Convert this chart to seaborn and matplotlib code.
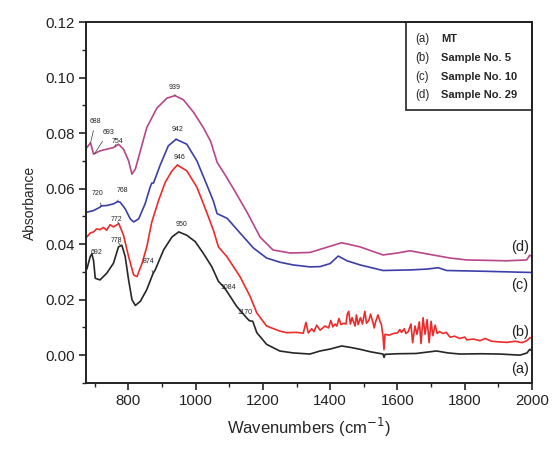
"""FTIR absorbance spectra of MT and samples 5, 10, 29"""
import numpy as np
import matplotlib
matplotlib.use("Agg")
import matplotlib.pyplot as plt
import seaborn as sns
import pandas as pd
from matplotlib.patches import Rectangle
from matplotlib.ticker import MultipleLocator, FormatStrFormatter

# (a) MT - black
wn_a = [677, 687, 692, 697, 702, 716, 736, 756, 771, 781, 791, 801, 811, 821, 836,
        855, 874, 880, 905, 930, 950, 974, 999, 1023, 1048, 1068, 1084, 1093, 1122,
        1152, 1160, 1170, 1182, 1211, 1250, 1290, 1340, 1370, 1400, 1434, 1460, 1489,
        1520, 1557, 1560, 1563, 1600, 1655, 1716, 1750, 1786, 1850, 1904, 1964, 1985,
        1993, 2000]
abs_a = [0.031, 0.0355, 0.0365, 0.034, 0.0277, 0.0271, 0.0295, 0.0331, 0.039, 0.0396,
         0.0355, 0.0271, 0.020, 0.0179, 0.0194, 0.0236, 0.0295, 0.0307, 0.0379, 0.0426,
         0.0444, 0.0432, 0.0409, 0.0367, 0.0319, 0.0266, 0.0245, 0.023, 0.0176, 0.0134,
         0.0124, 0.0122, 0.0081, 0.0039, 0.0015, 0.0008, 0.0004, 0.0015, 0.0022, 0.0033,
         0.0028, 0.0021, 0.0012, 0.0004, -0.0008, 0.0003, 0.0005, 0.0006, 0.0015, 0.0008,
         0.0004, 0.0005, 0.0004, 0.0, 0.0008, 0.0021, 0.0015]

# (b) Sample No. 5 - red
wn_b = [677, 687, 697, 706, 716, 726, 736, 746, 756, 772, 786, 801, 816, 826, 841, 855,
        870, 890, 910, 930, 946, 974, 1004, 1033, 1053, 1068, 1093, 1132, 1162, 1182,
        1211, 1250, 1270, 1300, 1320, 1328, 1335, 1345, 1352, 1360, 1370, 1378, 1385,
        1395, 1402, 1408, 1415, 1420, 1426, 1432, 1440, 1447, 1451, 1455, 1460, 1465,
        1470, 1474, 1478, 1483, 1490, 1496, 1503, 1508, 1515, 1520, 1527, 1531, 1535,
        1542, 1548, 1552, 1557, 1560, 1563, 1575, 1588, 1600, 1607, 1612, 1620, 1625,
        1632, 1640, 1645, 1652, 1658, 1665, 1670, 1676, 1682, 1688, 1694, 1700, 1705,
        1712, 1718, 1725, 1735, 1745, 1756, 1770, 1785, 1800, 1806, 1825, 1845, 1860,
        1880, 1900, 1925, 1950, 1970, 1984, 1993, 2000]
abs_b = [0.0426, 0.044, 0.0444, 0.0455, 0.0452, 0.046, 0.045, 0.047, 0.0462, 0.0474,
         0.0432, 0.0355, 0.0289, 0.0283, 0.0331, 0.039, 0.048, 0.0557, 0.0623, 0.0664,
         0.0685, 0.0664, 0.0605, 0.0515, 0.045, 0.039, 0.0355, 0.0283, 0.0212, 0.0152,
         0.0105, 0.0087, 0.0081, 0.0082, 0.0079, 0.0118, 0.008, 0.0095, 0.0085, 0.0108,
         0.009, 0.0098, 0.0105, 0.0098, 0.0125, 0.0102, 0.0112, 0.0105, 0.0132, 0.011,
         0.0115, 0.0112, 0.0148, 0.0158, 0.0112, 0.0135, 0.0118, 0.0105, 0.0145, 0.011,
         0.0135, 0.0112, 0.0158, 0.0115, 0.0125, 0.0148, 0.0118, 0.0098, 0.012, 0.0145,
         0.0122, 0.0112, 0.0069, 0.002, 0.0075, 0.0072, 0.0078, 0.008, 0.0092, 0.0082,
         0.0095, 0.0078, 0.0085, 0.0112, 0.0045, 0.0105, 0.0075, 0.012, 0.0042, 0.0135,
         0.0075, 0.0128, 0.0045, 0.0122, 0.007, 0.0108, 0.0078, 0.0085, 0.0078, 0.0082,
         0.0065, 0.0068, 0.006, 0.0065, 0.0055, 0.0058, 0.0052, 0.006, 0.005, 0.0048,
         0.0046, 0.005, 0.0045, 0.0052, 0.0062, 0.0065]

# (c) Sample No. 10 - blue
wn_c = [677, 697, 716, 720, 736, 756, 768, 776, 791, 806, 816, 831, 850, 865, 870, 875,
        895, 919, 942, 974, 1004, 1033, 1053, 1064, 1094, 1133, 1172, 1211, 1250, 1290,
        1340, 1370, 1400, 1424, 1450, 1489, 1557, 1637, 1687, 1721, 1746, 1865, 1993, 2000]
abs_c = [0.0515, 0.0521, 0.0533, 0.0538, 0.0539, 0.0545, 0.0553, 0.0551, 0.0527, 0.0491,
         0.048, 0.0491, 0.0545, 0.0605, 0.062, 0.062, 0.0685, 0.0754, 0.0778, 0.076,
         0.070, 0.0615, 0.0555, 0.051, 0.0493, 0.0439, 0.0386, 0.035, 0.0335, 0.0325,
         0.0318, 0.0319, 0.033, 0.0357, 0.034, 0.0325, 0.0305, 0.0307, 0.031, 0.0315,
         0.0305, 0.0302, 0.0298, 0.0298]

# (d) Sample No. 29 - magenta
wn_d = [677, 688, 697, 706, 716, 736, 756, 771, 786, 801, 811, 821, 836, 855, 885, 915,
        939, 964, 994, 1023, 1045, 1064, 1085, 1110, 1153, 1192, 1230, 1281, 1340, 1391,
        1434, 1489, 1557, 1600, 1637, 1705, 1756, 1806, 1925, 1984, 1993, 2000]
abs_d = [0.0748, 0.0765, 0.0724, 0.073, 0.0736, 0.0742, 0.0748, 0.076, 0.0742, 0.070,
         0.0652, 0.067, 0.0736, 0.082, 0.089, 0.0926, 0.0935, 0.092, 0.0875, 0.082,
         0.077, 0.0695, 0.0655, 0.0605, 0.0515, 0.0425, 0.0379, 0.0368, 0.037, 0.0389,
         0.0405, 0.039, 0.0361, 0.0368, 0.0376, 0.0361, 0.035, 0.0343, 0.034, 0.0343,
         0.036, 0.0355]

samples = ["a", "b", "c", "d"]
colors = {"a": "#262626", "b": "#ee2b2b", "c": "#3b3fa6", "d": "#b8458a"}
legend_lines = [("(a)", "MT"), ("(b)", "Sample No. 5"),
                ("(c)", "Sample No. 10"), ("(d)", "Sample No. 29")]
end_label_y = [-0.005, 0.0082, 0.0254, 0.0389]

# band labels: text, curve it belongs to, band position, label position
band_text = ["688", "693", "754", "939", "720", "768", "942", "772", "946",
             "778", "692", "874", "950", "1084", "1170"]
band_curve = ["d", "d", "d", "d", "c", "c", "c", "b", "b", "a", "a", "a", "a", "a", "a"]
band_x = [688, 700, 760, 939, 720, 768, 942, 772, 946, 778, 692, 874, 950, 1084, 1170]
label_x = [703, 741, 767, 937, 708, 782, 946, 764, 951, 764, 705, 859, 957, 1097, 1147]
label_y = [0.0843, 0.0804, 0.0768, 0.0964, 0.0582, 0.0593, 0.0814, 0.0489, 0.0711,
           0.0414, 0.0371, 0.0339, 0.0471, 0.0243, 0.0154]

series = {"a": (wn_a, abs_a), "b": (wn_b, abs_b), "c": (wn_c, abs_c), "d": (wn_d, abs_d)}
df = pd.concat(
    [pd.DataFrame({"wn": series[s][0], "absorbance": series[s][1], "sample": s}) for s in samples],
    ignore_index=True,
)

sns.set_style("ticks")
plt.rcParams["font.family"] = ["Liberation Sans", "DejaVu Sans"]

fig = plt.figure(figsize=(5.56, 4.51), dpi=100)
ax = fig.add_axes([0.155, 0.151, 0.802, 0.80])

sns.lineplot(data=df, x="wn", y="absorbance", hue="sample", palette=colors,
             estimator=None, sort=False, legend=False, lw=1.2, ax=ax)

ax.set_xlim(675, 2000)
ax.set_ylim(-0.01, 0.12)
ax.xaxis.set_major_locator(MultipleLocator(200))
ax.xaxis.set_minor_locator(MultipleLocator(100))
ax.yaxis.set_major_locator(MultipleLocator(0.02))
ax.yaxis.set_minor_locator(MultipleLocator(0.01))
ax.yaxis.set_major_formatter(FormatStrFormatter("%.2f"))
ax.tick_params(which="major", direction="out", length=5, width=1.2, labelsize=10.8,
               colors="#222222", pad=3)
ax.tick_params(which="minor", direction="out", length=3, width=1.0, colors="#222222")
for sp in ax.spines.values():
    sp.set_linewidth(1.4)
    sp.set_color("#222222")

ax.set_xlabel("Wavenumbers (cm$^{-1}$)", fontsize=12, labelpad=6)
ax.set_ylabel("Absorbance", fontsize=10, labelpad=6)

# band annotations
for t, c, bx, lx, ly in zip(band_text, band_curve, band_x, label_x, label_y):
    by = np.interp(bx, series[c][0], series[c][1])
    ax.annotate(t, xy=(bx, by), xytext=(lx, ly), fontsize=5, ha="center", va="center",
                color="#222222",
                arrowprops=dict(arrowstyle="-", lw=0.5, color="#333333", shrinkA=2, shrinkB=0))

# curve letters at the right edge
for (lab, _), y in zip(legend_lines, end_label_y):
    ax.text(1964, y, lab, fontsize=10.5, ha="center", va="center", color="#222222")

# legend box
ax.add_patch(Rectangle((0.717, 0.756), 0.283, 0.244, transform=ax.transAxes,
                       fill=False, lw=1.2, ec="#222222", clip_on=False))
for i, (lab, name) in enumerate(legend_lines):
    yy = 0.953 - i * 0.052
    ax.text(0.738, yy, lab, transform=ax.transAxes, fontsize=8.3, va="center")
    ax.text(0.796, yy, name, transform=ax.transAxes, fontsize=8, va="center",
            fontweight="bold")

fig.savefig("out.png", dpi=100)
